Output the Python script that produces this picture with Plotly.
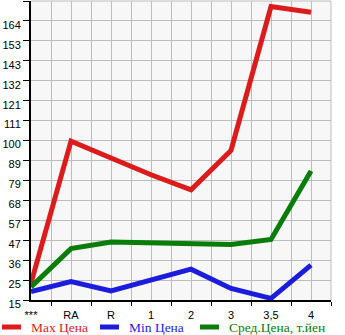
import plotly.graph_objects as go

categories = ["***", "RA", "R", "1", "2", "3", "3,5", "4"]
max_price = [24, 100, 91, 82, 74, 95, 172, 169]
min_price = [19.5, 24.8, 19.8, 25.6, 31.5, 21.2, 15.9, 33.7]
avg_price = [22, 42.5, 46, 45.5, 44.9, 44.7, 47.4, 84]
y_min, y_max = 15, 175
n_steps = 15
y_tickvals = [y_min + (y_max - y_min) * k / n_steps for k in range(n_steps + 1)]
y_ticktext = [str(int(v)) for v in y_tickvals]
y_ticktext[-1] = ""

names = ["Max Цена", "Min Цена", "Сред.Цена, т.йен"]
colors = ["#dc1c1c", "#1c1cdc", "#087d08"]
series = [max_price, min_price, avg_price]

W, H = 345, 335
ML, MR, MT, MB = 31, 14, 1, 35
PW, PH = W - ML - MR, H - MT - MB


def px_x(p):
    return (p - ML) / PW


def px_y(p):
    return (H - MB - p) / PH


xs = list(range(len(categories)))
fig = go.Figure()
for name, col, vals in zip(names, colors, series):
    fig.add_trace(go.Scatter(x=xs, y=vals, mode="lines", name=name,
                             line=dict(color=col, width=5), showlegend=False))

# manual legend (line sample + coloured label)
legend_starts = [0, 98, 198]
legend_y = 327
for name, col, x0 in zip(names, colors, legend_starts):
    fig.add_shape(type="line", xref="paper", yref="paper",
                  x0=px_x(x0 + 2), x1=px_x(x0 + 21), y0=px_y(legend_y), y1=px_y(legend_y),
                  line=dict(color=col, width=5))
    fig.add_annotation(xref="paper", yref="paper", x=px_x(x0 + 29), y=px_y(legend_y),
                       xanchor="left", yanchor="middle", showarrow=False, text=name,
                       font=dict(family="Liberation Serif", size=13.5, color=col))

grid = "#bdbdbd"
fig.update_layout(
    width=W, height=H,
    margin=dict(l=ML, r=MR, t=MT, b=MB, autoexpand=False),
    paper_bgcolor="white", plot_bgcolor="#f7f7f7",
    font=dict(family="Liberation Sans", size=11, color="black"),
    showlegend=False,
)
fig.update_xaxes(range=[0, 7.5], tickvals=xs, ticktext=categories, ticks="",
                 showgrid=True, gridcolor=grid, gridwidth=1,
                 showline=True, linecolor="black", linewidth=2,
                 zeroline=False, fixedrange=True, ticklabelstandoff=4,
                 minor=dict(tickvals=[i + 0.5 for i in xs], ticks="outside", ticklen=4,
                            tickcolor="black", showgrid=True, gridcolor=grid, gridwidth=1))
fig.update_yaxes(range=[y_min, y_max], tickvals=y_tickvals, ticktext=y_ticktext,
                 ticks="outside", ticklen=6, tickcolor="black",
                 showgrid=True, gridcolor=grid, gridwidth=1,
                 showline=True, linecolor="black", linewidth=2,
                 zeroline=False, fixedrange=True, ticklabelshift=4)
fig.add_shape(type="line", xref="paper", yref="paper", x0=0, x1=1, y0=1, y1=1,
              line=dict(color=grid, width=1), layer="below")
fig.add_shape(type="line", xref="paper", yref="paper", x0=1, x1=1, y0=0, y1=1,
              line=dict(color=grid, width=1), layer="below")
fig.write_html("out.html")
